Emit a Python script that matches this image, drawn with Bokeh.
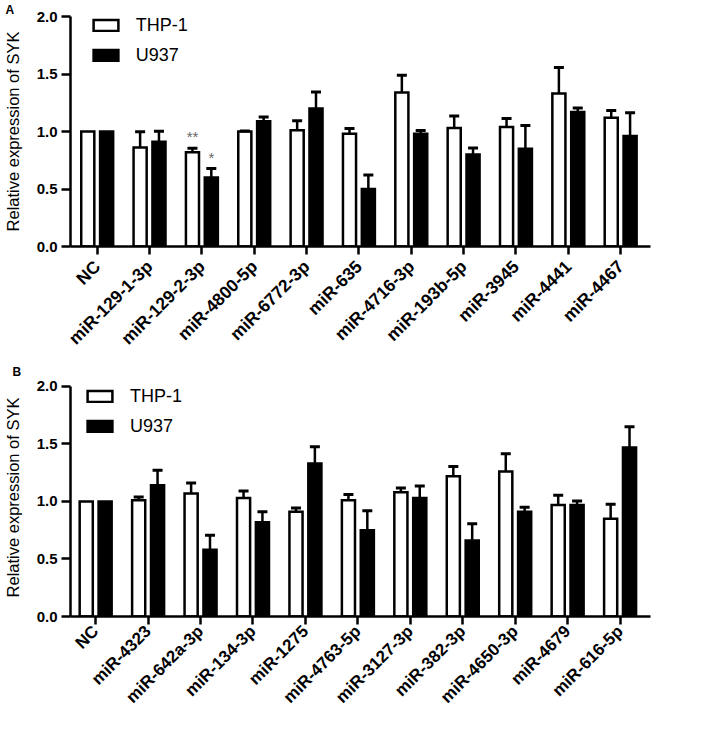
import math
import numpy as np
from bokeh.plotting import figure
from bokeh.models import (ColumnDataSource, Whisker, TeeHead, FixedTicker, Range1d,
                          Legend, LegendItem, Title, NumeralTickFormatter)
from bokeh.layouts import column
from bokeh.transform import dodge
from bokeh.embed import file_html
from bokeh.resources import INLINE
from bokeh.core.properties import value

# ---------------- data ----------------
cats_a = ["NC", "miR-129-1-3p", "miR-129-2-3p", "miR-4800-5p", "miR-6772-3p", "miR-635",
          "miR-4716-3p", "miR-193b-5p", "miR-3945", "miR-4441", "miR-4467"]
thp_a = [1.00, 0.86, 0.82, 1.00, 1.01, 0.98, 1.34, 1.03, 1.04, 1.33, 1.12]
thp_a_err = [0.0, 0.138, 0.034, 0.005, 0.084, 0.046, 0.149, 0.104, 0.073, 0.226, 0.062]
u937_a = [1.00, 0.91, 0.60, 1.09, 1.20, 0.50, 0.98, 0.80, 0.85, 1.17, 0.96]
u937_a_err = [0.0, 0.093, 0.078, 0.037, 0.144, 0.122, 0.028, 0.057, 0.203, 0.034, 0.203]
sig_thp_a = ["", "", "**", "", "", "", "", "", "", "", ""]
sig_u937_a = ["", "", "*", "", "", "", "", "", "", "", ""]

cats_b = ["NC", "miR-4323", "miR-642a-3p", "miR-134-3p", "miR-1275", "miR-4763-5p",
          "miR-3127-3p", "miR-382-3p", "miR-4650-3p", "miR-4679", "miR-616-5p"]
thp_b = [1.00, 1.01, 1.07, 1.03, 0.91, 1.01, 1.08, 1.22, 1.26, 0.97, 0.85]
thp_b_err = [0.0, 0.028, 0.090, 0.061, 0.034, 0.050, 0.036, 0.085, 0.155, 0.085, 0.126]
u937_b = [1.00, 1.14, 0.58, 0.82, 1.33, 0.75, 1.03, 0.66, 0.91, 0.97, 1.47]
u937_b_err = [0.0, 0.132, 0.127, 0.091, 0.146, 0.169, 0.104, 0.146, 0.040, 0.034, 0.180]
sig_thp_b = [""] * 11
sig_u937_b = [""] * 11

y_ticks = [0.0, 0.5, 1.0, 1.5, 2.0]
series_names = ["THP-1", "U937"]

FONT = "Liberation Sans"
LW = 2.5


def make_panel(letter, letter_offset, cats, thp, thp_err, u937, u937_err, sig_thp, sig_u,
               width, height, b_left, b_right, b_top, b_bottom, x_range, y_end,
               leg_x, leg_top, xlab_size, xlab_standoff):
    p = figure(width=width, height=height, output_backend="svg", toolbar_location=None,
               x_range=Range1d(*x_range), y_range=Range1d(0, y_end),
               min_border_left=b_left, min_border_right=b_right,
               min_border_top=b_top, min_border_bottom=b_bottom)
    p.outline_line_color = None
    p.xgrid.visible = False
    p.ygrid.visible = False
    p.background_fill_color = "white"
    p.border_fill_color = "white"

    title = Title(text=letter, align="left", offset=letter_offset, standoff=0,
                  text_font=FONT, text_font_style="bold", text_font_size="12px",
                  text_color="black")
    p.add_layout(title, "above")

    x = np.arange(len(cats))
    src = ColumnDataSource(dict(x=x, thp=thp, u=u937))
    off = 0.18
    bw = 0.25
    r1 = p.vbar(x=dodge("x", -off), top="thp", bottom=0, width=bw, source=src,
                fill_color="white", line_color="black", line_width=LW, line_join="miter")
    r2 = p.vbar(x=dodge("x", off), top="u", bottom=0, width=bw, source=src,
                fill_color="black", line_color="black", line_width=LW, line_join="miter")

    for vals, errs, o in ((thp, thp_err, -off), (u937, u937_err, off)):
        idx = [i for i, e in enumerate(errs) if e > 0]
        wsrc = ColumnDataSource(dict(base=[i + o for i in idx],
                                     lower=[vals[i] for i in idx],
                                     upper=[vals[i] + errs[i] for i in idx]))
        w = Whisker(source=wsrc, base="base", lower="lower", upper="upper",
                    dimension="height", line_color="black", line_width=LW,
                    upper_head=TeeHead(size=10, line_width=3, line_color="black"),
                    lower_head=None, level="glyph")
        p.add_layout(w)

    # significance marks
    sx, sy, st = [], [], []
    for sig, vals, errs, o in ((sig_thp, thp, thp_err, -off), (sig_u, u937, u937_err, off)):
        for i, s in enumerate(sig):
            if s:
                sx.append(i + o)
                sy.append(vals[i] + errs[i] + 0.025)
                st.append(s)
    if sx:
        ssrc = ColumnDataSource(dict(x=sx, y=sy, t=st))
        p.text(x="x", y="y", text="t", source=ssrc, text_align="center",
               text_baseline="bottom", text_color="#666666", text_font=value(FONT),
               text_font_size="15px")

    # axes
    p.xaxis.ticker = FixedTicker(ticks=list(x))
    p.xaxis.major_label_overrides = {int(i): c for i, c in zip(x, cats)}
    p.xaxis.major_label_orientation = math.pi / 4
    p.yaxis.ticker = FixedTicker(ticks=y_ticks)
    p.yaxis.bounds = (y_ticks[0], y_ticks[-1])
    p.yaxis.formatter = NumeralTickFormatter(format="0.0")
    p.yaxis.axis_label = "Relative expression of SYK"
    for ax in (p.xaxis[0], p.yaxis[0]):
        ax.axis_line_width = LW
        ax.axis_line_color = "black"
        ax.major_tick_line_width = LW
        ax.major_tick_line_color = "black"
        ax.major_tick_in = 0
        ax.minor_tick_line_color = None
        ax.major_label_text_font = FONT
        ax.major_label_text_font_style = "bold"
        ax.major_label_text_color = "black"
    p.xaxis.major_label_text_font_size = xlab_size
    p.yaxis.major_label_text_font_size = "15px"
    p.xaxis.major_tick_out = 8
    p.xaxis.major_label_standoff = xlab_standoff
    p.yaxis.major_tick_out = 9
    p.yaxis.major_label_standoff = 4
    p.yaxis.axis_label_text_font = FONT
    p.yaxis.axis_label_text_font_style = "normal"
    p.yaxis.axis_label_text_font_size = "16.5px"
    p.yaxis.axis_label_text_color = "black"
    p.yaxis.axis_label_standoff = 12

    frame_h = height - b_top - b_bottom
    item_h = 30
    leg_h = 2 * item_h
    legend = Legend(items=[LegendItem(label=series_names[0], renderers=[r1]),
                           LegendItem(label=series_names[1], renderers=[r2])],
                    location=(leg_x, frame_h - leg_top - leg_h), margin=0, padding=0,
                    border_line_color=None, background_fill_alpha=0,
                    glyph_width=31, glyph_height=14, label_standoff=15,
                    spacing=0, label_text_font=FONT,
                    label_text_font_size="18px", label_height=item_h,
                    label_text_color="black")
    p.add_layout(legend)
    return p


pA = make_panel("A", -65, cats_a, thp_a, thp_a_err, u937_a, u937_a_err, sig_thp_a, sig_u937_a,
                width=693, height=358, b_left=68, b_right=1, b_top=16, b_bottom=111,
                x_range=(-0.51, 10.57), y_end=2.0, leg_x=19.7, leg_top=-5,
                xlab_size="17.5px", xlab_standoff=9)
pB = make_panel("B", -58, cats_b, thp_b, thp_b_err, u937_b, u937_b_err, sig_thp_b, sig_u937_b,
                width=693, height=358, b_left=65, b_right=43, b_top=20, b_bottom=98,
                x_range=(-0.48, 10.58), y_end=2.069, leg_x=14, leg_top=5,
                xlab_size="17px", xlab_standoff=4)

layout = column(pA, pB, spacing=0)
open("out.html", "w").write(file_html(layout, INLINE))
